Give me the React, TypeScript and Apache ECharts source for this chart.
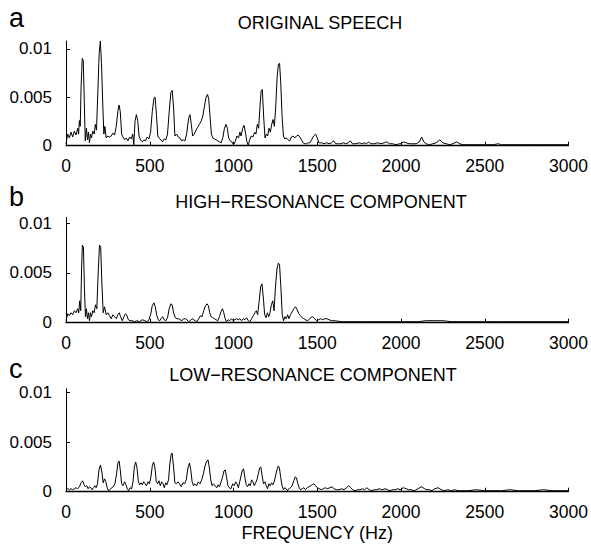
import React, { useEffect, useRef } from "react";
import * as echarts from "echarts";

// [frequency (Hz), amplitude]
const originalSpeech: [number, number][] = [
  [0, 0.0002], [10, 0.0012], [20, 0.0008], [30, 0.0014], [40, 0.0009], [50, 0.0015], [60, 0.0011], [70, 0.0018],
  [75, 0.0012], [80, 0.0026], [85, 0.002], [90, 0.006], [97, 0.009], [103, 0.0088], [110, 0.004], [115, 0.0005],
  [122, 0.0018], [128, 0.0006], [134, 0.0014], [140, 0.0003], [146, 0.0012], [152, 0.0008], [160, 0.0015],
  [168, 0.0012], [175, 0.0022], [182, 0.0016], [190, 0.0055], [198, 0.0095], [205, 0.0108], [212, 0.0085],
  [220, 0.004], [226, 0.0012], [232, 0.002], [240, 0.0008], [250, 0.001], [260, 0.0009], [270, 0.001],
  [280, 0.0013], [290, 0.0011], [300, 0.002], [310, 0.0036], [317, 0.0042], [324, 0.0035], [332, 0.0012],
  [340, 0.0009], [350, 0.0006], [360, 0.0008], [370, 0.0005], [380, 0.0009], [390, 0.0007], [398, 0.0012],
  [405, 0.0001], [412, 0.0025], [420, 0.0032], [428, 0.0026], [436, 0.001], [445, 0.0006], [455, 0.0004],
  [465, 0.0006], [475, 0.0005], [485, 0.0009], [495, 0.0007], [505, 0.0014], [515, 0.0035], [525, 0.0049],
  [532, 0.005], [540, 0.0032], [548, 0.001], [556, 0.0008], [566, 0.0006], [576, 0.0004], [586, 0.0007],
  [596, 0.0006], [606, 0.0012], [616, 0.0035], [626, 0.0055], [634, 0.0057], [642, 0.004], [650, 0.001],
  [660, 0.0012], [670, 0.0009], [680, 0.0008], [690, 0.0005], [700, 0.0006], [710, 0.0005], [720, 0.0012],
  [732, 0.0028], [740, 0.0032], [748, 0.0022], [756, 0.001], [766, 0.0012], [776, 0.0016], [786, 0.0019],
  [796, 0.0022], [806, 0.0025], [816, 0.003], [826, 0.004], [836, 0.005], [845, 0.0053], [852, 0.0048],
  [860, 0.003], [868, 0.0012], [876, 0.0008], [886, 0.0007], [896, 0.0006], [906, 0.0005], [916, 0.0004],
  [926, 0.0003], [936, 0.0008], [946, 0.0018], [955, 0.0022], [963, 0.0018], [971, 0.0008], [980, 0.0005],
  [990, 0.0004], [1000, 0.0001], [1010, 0.0004], [1020, 0.001], [1030, 0.0008], [1038, 0.0014], [1045, 0.001],
  [1055, 0.0018], [1063, 0.0021], [1071, 0.0014], [1080, 0.0004], [1088, 0.0], [1096, 0.0006], [1106, 0.001],
  [1116, 0.0009], [1126, 0.0014], [1134, 0.0012], [1142, 0.0022], [1150, 0.0018], [1158, 0.004], [1165, 0.0057],
  [1172, 0.0058], [1180, 0.003], [1188, 0.0008], [1196, 0.0012], [1204, 0.001], [1212, 0.0018], [1220, 0.0014],
  [1228, 0.0022], [1236, 0.0027], [1244, 0.002], [1252, 0.004], [1260, 0.007], [1268, 0.0084], [1275, 0.0085],
  [1282, 0.0065], [1290, 0.003], [1298, 0.001], [1306, 0.0007], [1316, 0.0008], [1326, 0.0006], [1336, 0.0005],
  [1346, 0.0009], [1356, 0.001], [1366, 0.0008], [1376, 0.001], [1386, 0.0011], [1396, 0.0009], [1406, 0.0006],
  [1416, 0.0003], [1426, 0.0002], [1436, 0.0002], [1446, 0.0003], [1456, 0.0003], [1466, 0.0006], [1478, 0.001],
  [1490, 0.0012], [1500, 0.0008], [1510, 0.0003], [1525, 0.0003], [1540, 0.0002], [1555, 0.0003], [1570, 0.0002],
  [1585, 0.0003], [1598, 0.0005], [1610, 0.0002], [1625, 0.0002], [1640, 0.0002], [1655, 0.0003], [1670, 0.0002],
  [1685, 0.0003], [1697, 0.0005], [1710, 0.0002], [1730, 0.0002], [1750, 0.0003], [1765, 0.0002], [1780, 0.0003],
  [1795, 0.0002], [1806, 0.0004], [1820, 0.0002], [1840, 0.0002], [1860, 0.0003], [1880, 0.0002], [1900, 0.0003],
  [1915, 0.0004], [1930, 0.0002], [1950, 0.0002], [1970, 0.0001], [1990, 0.0002], [2000, 0.0002], [2014, 0.0004],
  [2030, 0.0003], [2050, 0.0002], [2070, 0.0002], [2090, 0.0002], [2110, 0.0004], [2123, 0.0009], [2136, 0.0004],
  [2150, 0.0002], [2170, 0.0001], [2190, 0.0002], [2210, 0.0003], [2232, 0.0006], [2250, 0.0003], [2270, 0.0002],
  [2290, 0.0001], [2310, 0.0002], [2331, 0.0004], [2350, 0.0002], [2370, 0.0001], [2400, 0.0001], [2450, 0.0001],
  [2500, 0.0001], [2550, 0.0001], [2580, 0.0002], [2600, 0.0001], [2650, 0.0001], [2700, 0.0001], [2750, 0.0001],
  [2800, 0.0001], [2850, 0.0001], [2900, 0.0001], [2950, 0.0001], [3000, 0.0001],
];

const highResonance: [number, number][] = [
  [0, 0.0002], [10, 0.0009], [20, 0.0007], [30, 0.001], [40, 0.0008], [50, 0.0012], [60, 0.001], [70, 0.0014],
  [76, 0.001], [82, 0.0022], [88, 0.0012], [93, 0.0055], [98, 0.0078], [104, 0.0076], [110, 0.0035], [116, 0.0006],
  [122, 0.0014], [128, 0.0004], [134, 0.001], [140, 0.0002], [146, 0.001], [152, 0.0006], [160, 0.0012],
  [168, 0.001], [176, 0.0018], [184, 0.0014], [192, 0.005], [200, 0.0078], [207, 0.0076], [214, 0.004],
  [222, 0.001], [230, 0.0016], [240, 0.0008], [250, 0.001], [260, 0.0007], [270, 0.0004], [280, 0.0008],
  [290, 0.0006], [300, 0.0004], [310, 0.0008], [318, 0.001], [326, 0.0006], [336, 0.0002], [346, 0.0006],
  [355, 0.0009], [362, 0.0008], [372, 0.0003], [382, 0.0002], [395, 0.0002], [410, 0.0001], [425, 0.0002],
  [440, 0.0001], [455, 0.0003], [470, 0.0002], [485, 0.0001], [495, 0.0003], [505, 0.0008], [515, 0.0017],
  [525, 0.002], [533, 0.0016], [541, 0.0008], [550, 0.0003], [560, 0.0002], [570, 0.0005], [578, 0.0006],
  [586, 0.0003], [596, 0.0002], [606, 0.0005], [616, 0.0014], [626, 0.0019], [634, 0.0018], [642, 0.001],
  [652, 0.0005], [662, 0.0004], [672, 0.0004], [682, 0.0003], [692, 0.0002], [702, 0.0004], [712, 0.0004],
  [722, 0.0003], [732, 0.0001], [742, 0.0002], [752, 0.0004], [762, 0.0003], [772, 0.0002], [782, 0.0001],
  [792, 0.0004], [802, 0.0007], [812, 0.0006], [822, 0.0012], [832, 0.0017], [842, 0.0019], [850, 0.0017],
  [858, 0.001], [866, 0.0006], [876, 0.0005], [886, 0.0004], [896, 0.0003], [906, 0.0002], [916, 0.0006],
  [925, 0.0011], [934, 0.0014], [942, 0.001], [950, 0.0004], [958, 0.0001], [968, 0.0003], [978, 0.0002],
  [988, 0.0004], [998, 0.0002], [1008, 0.0003], [1018, 0.0004], [1028, 0.0003], [1038, 0.0004], [1048, 0.0002],
  [1058, 0.0004], [1068, 0.0003], [1078, 0.0005], [1088, 0.0002], [1098, 0.0001], [1108, 0.0004], [1118, 0.0007],
  [1128, 0.001], [1136, 0.0012], [1144, 0.0008], [1152, 0.002], [1162, 0.0036], [1170, 0.0039], [1178, 0.0025],
  [1186, 0.0008], [1194, 0.0005], [1202, 0.001], [1210, 0.0006], [1218, 0.001], [1226, 0.0018], [1234, 0.0022],
  [1242, 0.0012], [1250, 0.0035], [1260, 0.0055], [1268, 0.006], [1275, 0.0058], [1283, 0.0035], [1291, 0.0008],
  [1299, 0.0002], [1307, 0.0006], [1315, 0.0004], [1323, 0.0008], [1331, 0.0004], [1340, 0.0008], [1350, 0.0011],
  [1360, 0.0014], [1370, 0.0016], [1380, 0.0013], [1390, 0.0009], [1400, 0.0007], [1410, 0.0005], [1420, 0.0004],
  [1430, 0.0003], [1440, 0.0002], [1450, 0.0003], [1460, 0.0005], [1472, 0.0006], [1484, 0.0004], [1496, 0.0002],
  [1508, 0.0003], [1520, 0.0004], [1532, 0.0003], [1545, 0.0004], [1558, 0.0004], [1570, 0.0003], [1585, 0.0002],
  [1600, 0.0002], [1650, 0.0001], [1700, 0.0001], [1800, 0.0001], [1900, 0.0001], [2000, 0.0001], [2100, 0.0001],
  [2150, 0.0002], [2200, 0.0002], [2250, 0.0002], [2300, 0.0001], [2400, 0.0001], [2500, 0.0001], [2600, 0.0001],
  [2700, 0.0001], [2800, 0.0001], [2900, 0.0001], [3000, 0.0001],
];

const lowResonance: [number, number][] = [
  [0, 0.0004], [10, 0.0003], [20, 0.0002], [30, 0.0003], [40, 0.0002], [50, 0.0003], [60, 0.0004], [70, 0.0003],
  [80, 0.0005], [90, 0.0009], [99, 0.0011], [108, 0.0007], [116, 0.0005], [124, 0.0006], [132, 0.0003],
  [140, 0.0005], [148, 0.0004], [156, 0.0002], [164, 0.0004], [172, 0.0006], [180, 0.0004], [188, 0.0008],
  [197, 0.0022], [206, 0.0027], [214, 0.002], [222, 0.0009], [230, 0.0013], [238, 0.001], [246, 0.0004],
  [254, 0.0001], [262, 0.0002], [272, 0.0004], [282, 0.0005], [292, 0.0008], [302, 0.0018], [310, 0.0029],
  [317, 0.0031], [324, 0.0022], [332, 0.0008], [340, 0.0006], [350, 0.001], [358, 0.0007], [366, 0.0003],
  [374, 0.0001], [382, 0.0004], [392, 0.0003], [400, 0.001], [408, 0.0025], [416, 0.003], [424, 0.0024],
  [432, 0.001], [440, 0.0007], [448, 0.0009], [456, 0.0007], [464, 0.001], [472, 0.0008], [480, 0.0006],
  [490, 0.001], [498, 0.0008], [507, 0.0015], [515, 0.0026], [523, 0.003], [531, 0.0024], [539, 0.001],
  [547, 0.0008], [555, 0.0011], [563, 0.0006], [571, 0.001], [579, 0.0008], [587, 0.0004], [595, 0.0009],
  [603, 0.0007], [612, 0.0012], [620, 0.0028], [628, 0.0038], [634, 0.0039], [642, 0.0025], [650, 0.0009],
  [658, 0.0008], [668, 0.001], [678, 0.0008], [688, 0.0005], [698, 0.0009], [708, 0.0008], [718, 0.0012],
  [728, 0.0024], [737, 0.0029], [745, 0.0022], [753, 0.001], [761, 0.0006], [770, 0.0008], [780, 0.0006],
  [790, 0.001], [800, 0.0008], [810, 0.0012], [820, 0.0018], [830, 0.0026], [840, 0.0031], [848, 0.0032],
  [856, 0.0024], [864, 0.0012], [872, 0.0006], [880, 0.0008], [890, 0.0006], [900, 0.0004], [908, 0.0007],
  [916, 0.0005], [926, 0.001], [935, 0.0015], [943, 0.0021], [951, 0.0022], [959, 0.0014], [967, 0.0006],
  [975, 0.0004], [985, 0.0003], [995, 0.0008], [1005, 0.0006], [1013, 0.001], [1021, 0.0008], [1029, 0.0004],
  [1037, 0.001], [1045, 0.0016], [1053, 0.0022], [1060, 0.0023], [1068, 0.0014], [1076, 0.0007], [1084, 0.0005],
  [1092, 0.0008], [1100, 0.0006], [1108, 0.0012], [1116, 0.001], [1124, 0.0006], [1132, 0.0009], [1140, 0.0012],
  [1148, 0.0018], [1156, 0.0024], [1163, 0.0025], [1171, 0.0016], [1179, 0.0008], [1187, 0.001], [1195, 0.0006],
  [1203, 0.0003], [1211, 0.0008], [1219, 0.0006], [1227, 0.0009], [1235, 0.0007], [1243, 0.001], [1251, 0.0016],
  [1259, 0.0022], [1267, 0.0026], [1274, 0.0024], [1282, 0.0014], [1290, 0.0006], [1298, 0.0002], [1306, 0.0004],
  [1314, 0.0003], [1322, 0.0001], [1330, 0.0003], [1340, 0.0004], [1350, 0.0006], [1360, 0.0011], [1368, 0.0015],
  [1376, 0.0014], [1384, 0.0008], [1392, 0.0004], [1400, 0.0002], [1410, 0.0003], [1420, 0.0004], [1430, 0.0002],
  [1440, 0.0004], [1450, 0.0005], [1460, 0.0006], [1470, 0.0007], [1480, 0.0008], [1490, 0.0006], [1500, 0.0004],
  [1512, 0.0003], [1524, 0.0002], [1536, 0.0003], [1548, 0.0004], [1560, 0.0003], [1575, 0.0004], [1588, 0.0005],
  [1600, 0.0003], [1615, 0.0002], [1630, 0.0002], [1645, 0.0003], [1660, 0.0002], [1675, 0.0004], [1688, 0.0006],
  [1700, 0.0004], [1712, 0.0002], [1726, 0.0001], [1740, 0.0002], [1755, 0.0002], [1770, 0.0003], [1783, 0.0002],
  [1796, 0.0004], [1810, 0.0002], [1825, 0.0001], [1840, 0.0002], [1855, 0.0002], [1870, 0.0003], [1885, 0.0002],
  [1905, 0.0003], [1920, 0.0002], [1935, 0.0001], [1950, 0.0002], [1965, 0.0002], [1980, 0.0003], [1995, 0.0002],
  [2014, 0.0004], [2030, 0.0003], [2045, 0.0002], [2060, 0.0002], [2080, 0.0001], [2100, 0.0003], [2123, 0.0005],
  [2140, 0.0003], [2155, 0.0002], [2170, 0.0002], [2185, 0.0001], [2200, 0.0003], [2222, 0.0004], [2240, 0.0002],
  [2260, 0.0001], [2280, 0.0002], [2300, 0.0001], [2321, 0.0002], [2340, 0.0001], [2400, 0.0001], [2450, 0.0002],
  [2500, 0.0001], [2600, 0.0001], [2650, 0.0002], [2700, 0.0001], [2800, 0.0001], [2850, 0.0002], [2900, 0.0001],
  [3000, 0.0001],
];

const panelLetters = ["a", "b", "c"];
const panelTitles = ["ORIGINAL SPEECH", "HIGH−RESONANCE COMPONENT", "LOW−RESONANCE COMPONENT"];
const yTickValues = [0, 0.005, 0.01];
const xAxisTitle = "FREQUENCY (Hz)";

const FONT = "'Liberation Sans', Arial, Helvetica, sans-serif";

export default function App() {
  const ref = useRef<HTMLDivElement>(null);

  useEffect(() => {
    if (!ref.current) return;
    const chart = echarts.init(ref.current, undefined, { renderer: "svg" });

    const grids = [
      { top: 41, height: 104.7, yMax: 0.0108 },
      { top: 217.3, height: 105.4, yMax: 0.0106 },
      { top: 388.7, height: 103, yMax: 0.0104 },
    ];
    const letterY = [18, 197.6, 369];
    const titleX = [320, 321, 313];
    const titleY = [23, 201.5, 375];
    const seriesData = [originalSpeech, highResonance, lowResonance];

    const option: any = {
      animation: false,
      backgroundColor: "#fff",
      grid: grids.map((g) => ({ left: 66, width: 505, top: g.top, height: g.height })),
      xAxis: grids.map((g, i) => ({
        type: "value",
        gridIndex: i,
        min: 0,
        max: 3000,
        interval: 500,
        axisLine: { show: true, onZero: false, lineStyle: { color: "#000", width: 1.3 } },
        axisTick: { show: true, inside: true, length: 4, lineStyle: { color: "#000", width: 1 } },
        axisLabel: {
          color: "#000",
          fontSize: 17.5,
          fontFamily: FONT,
          margin: 11,
          formatter: (v: number) => String(v),
        },
        splitLine: { show: false },
        name: i === 2 ? xAxisTitle : "",
        nameLocation: "middle",
        nameGap: 32,
        nameTextStyle: { color: "#000", fontSize: 18, fontFamily: FONT },
      })),
      yAxis: grids.map((g, i) => ({
        type: "value",
        gridIndex: i,
        min: 0,
        max: g.yMax,
        interval: 0.005,
        axisLine: { show: true, lineStyle: { color: "#000", width: 1 } },
        axisTick: { show: true, inside: true, length: 4, customValues: yTickValues, lineStyle: { color: "#000", width: 1 } },
        axisLabel: {
          color: "#000",
          fontSize: 17,
          fontFamily: FONT,
          margin: 14,
          customValues: yTickValues,
          formatter: (v: number) => (v === 0 ? "0" : String(+v.toFixed(4))),
        },
        splitLine: { show: false },
      })),
      series: seriesData.map((d, i) => ({
        type: "line",
        xAxisIndex: i,
        yAxisIndex: i,
        data: d,
        showSymbol: false,
        symbol: "none",
        lineStyle: { color: "#000", width: 1 },
        silent: true,
      })),
      graphic: [
        ...panelLetters.map((l, i) => ({
          type: "text",
          left: 9,
          top: letterY[i] - 14,
          style: { text: l, fontSize: 27, fontFamily: FONT, fill: "#000" },
        })),
        ...panelTitles.map((t, i) => ({
          type: "text",
          x: titleX[i],
          y: titleY[i],
          style: {
            text: t,
            fontSize: 18,
            fontFamily: FONT,
            fill: "#000",
            textAlign: "center",
            textVerticalAlign: "middle",
            align: "center",
            verticalAlign: "middle",
          },
        })),
      ],
    };

    chart.setOption(option);
    return () => chart.dispose();
  }, []);

  return (
    <div
      ref={ref}
      style={{ position: "absolute", left: 0, top: 0, width: 591, height: 545, background: "#fff" }}
    />
  );
}
